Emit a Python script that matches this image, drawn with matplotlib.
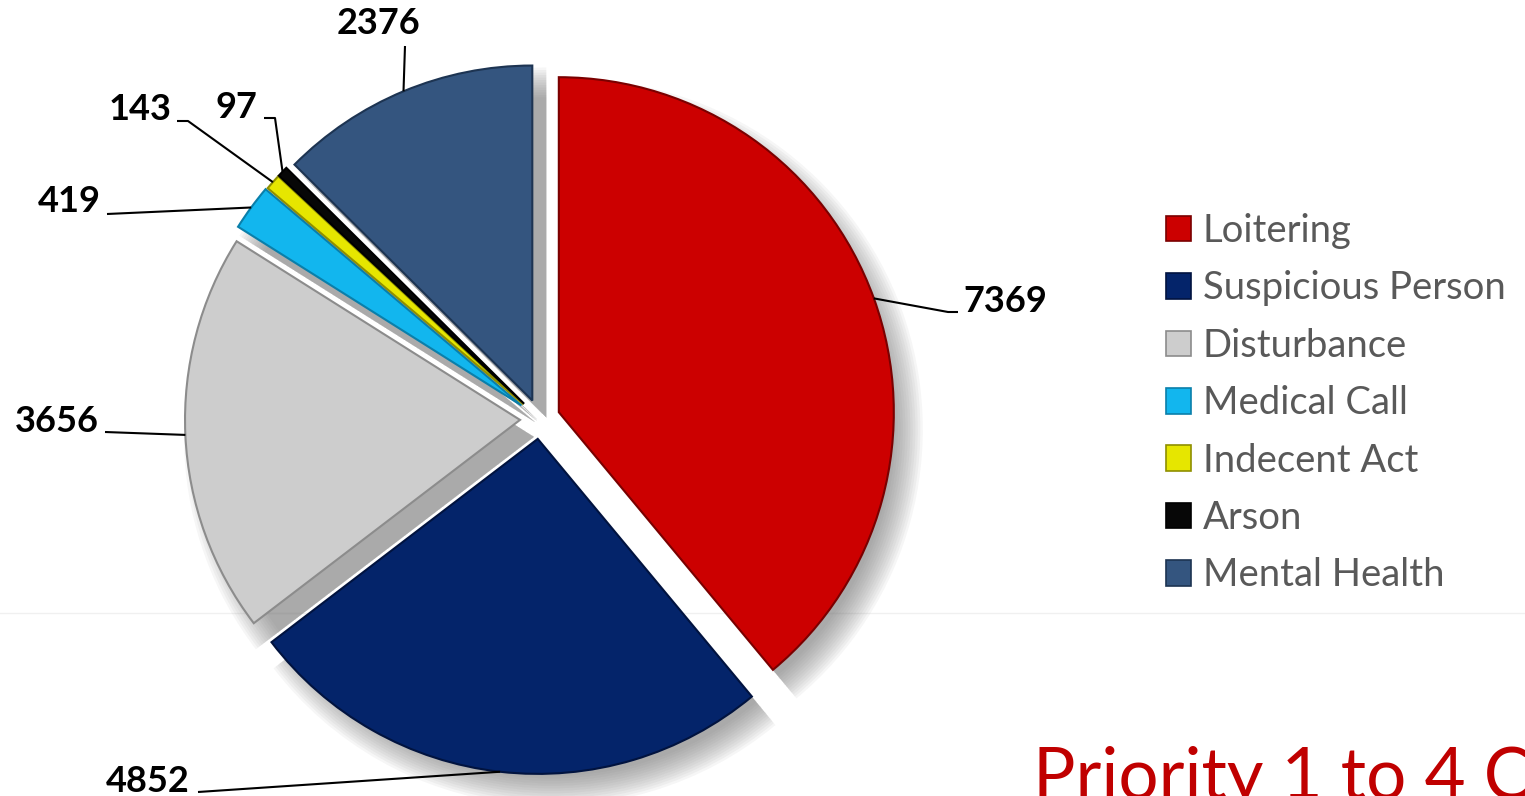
import matplotlib
matplotlib.use("Agg")
import matplotlib.pyplot as plt
from matplotlib.patches import Patch
import numpy as np

# ---------------- data ----------------
categories = ["Loitering", "Suspicious Person", "Disturbance", "Medical Call",
              "Indecent Act", "Arson", "Mental Health"]
values = [7369, 4852, 3656, 419, 143, 97, 2376]
value_labels = [str(v) for v in values]
title_text = "Priority 1 to 4 Calls"

# ---------------- style ----------------
colors = ["#CC0000", "#04246A", "#CDCDCD", "#12B6EE", "#E6E600", "#070707", "#34557F"]
edge_colors = ["#7A0000", "#01133F", "#8C8C8C", "#0A7FAA", "#8F8F00", "#000000", "#1D3452"]
# offsets of the exploded wedges (in pixels, since the axes use pixel units)
explode = [20, 20, 20, 23, 22, 22, 20]

W, H = 1525, 796
fig = plt.figure(figsize=(W / 100, H / 100), dpi=100)
ax = fig.add_axes([0, 0, 1, 1])

cx, cy = 540, H - 419
R = 335

# faint background rule
ax.axhline(H - 613, color="#f0f0f0", lw=1, zorder=0)

# blurred drop shadow (several translucent pies)
for dr in np.linspace(-15, 15, 13):
    ws, _ = ax.pie(values, explode=explode, colors=["#6a6a6a"] * len(values),
                   startangle=90, counterclock=False, radius=R + dr,
                   center=(cx + 14, cy - 17),
                   wedgeprops=dict(alpha=0.06, linewidth=0))
    for w in ws:
        w.set_zorder(1)

wedges, _ = ax.pie(values, explode=explode, colors=colors, startangle=90,
                   counterclock=False, radius=R, center=(cx, cy),
                   wedgeprops=dict(linewidth=1.5))
for w, ec in zip(wedges, edge_colors):
    w.set_edgecolor(ec)
    w.set_zorder(3)

ax.set_xlim(0, W)
ax.set_ylim(0, H)
ax.set_aspect("equal")
ax.axis("off")

# ---------------- data labels with leader lines ----------------
# (label centre in image px, leader waypoints from label side in image px)
label_layout = [
    ((1005, 301), [(958, 312), (948, 312)]),
    ((148, 781), [(198, 792)]),
    ((57, 422), [(105, 432)]),
    ((69, 202), [(107, 214)]),
    ((140, 109), [(177, 121), (188, 121)]),
    ((236, 108), [(264, 118), (275, 118)]),
    ((379, 23), [(405, 46)]),
]

for w, lab, (tpos, pts) in zip(wedges, value_labels, label_layout):
    th = np.deg2rad((w.theta1 + w.theta2) / 2)
    ex = w.center[0] + w.r * np.cos(th)
    ey = w.center[1] + w.r * np.sin(th)
    xs = [p[0] for p in pts] + [ex]
    ys = [H - p[1] for p in pts] + [ey]
    ax.plot(xs, ys, color="black", lw=1.5, zorder=4, solid_capstyle="butt")
    ax.text(tpos[0], H - tpos[1], lab, ha="center", va="center",
            fontsize=26, fontweight="bold", family=["Lato", "DejaVu Sans"],
            color="black", zorder=5)

# ---------------- legend ----------------
handles = [Patch(facecolor=c, edgecolor=ec, linewidth=1.2)
           for c, ec in zip(colors, edge_colors)]
leg = ax.legend(handles, categories, loc="upper left",
                bbox_to_anchor=(1166, H - 213), bbox_transform=ax.transData,
                frameon=False, borderpad=0, borderaxespad=0,
                handlelength=0.66, handleheight=0.66, handletextpad=0.3,
                labelspacing=0.56,
                prop=dict(family=["Lato", "DejaVu Sans"], size=27.5))
for t in leg.get_texts():
    t.set_color("#595959")

# ---------------- title (partly off-canvas as in the slide) ----------------
ax.text(1033, -3, title_text, ha="left", va="baseline", fontsize=51,
        color="#C00000", family=["Lato", "DejaVu Sans"],
        clip_on=False)

fig.savefig("out.png", dpi=100)
